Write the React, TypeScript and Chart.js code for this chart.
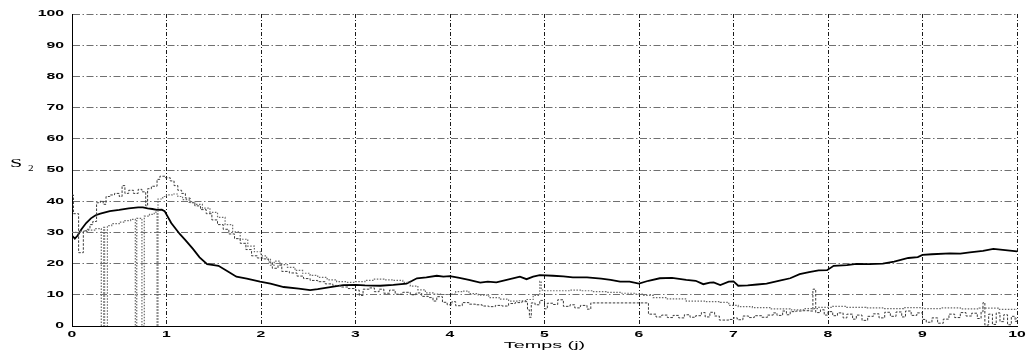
import React, { useEffect, useRef } from 'react';
import { Chart, registerables } from 'chart.js';

Chart.register(...registerables);

const xTitle = 'Temps (j)';
const yTitle = 'S';
const yTitleSub = '2';
const xMin = 0;
const xMax = 10;
const yMin = 0;
const yMax = 100;

// Solid black series
const solidT = [0, 0.03, 0.06, 0.1, 0.15, 0.2, 0.25, 0.3, 0.4, 0.5, 0.6, 0.7, 0.75, 0.8, 0.85, 0.9, 0.95, 0.98, 1.05, 1.14, 1.2, 1.28, 1.35, 1.43, 1.5, 1.55, 1.65, 1.74, 1.85, 1.99, 2.1, 2.24, 2.4, 2.52, 2.6, 2.7, 2.8, 2.87, 3.0, 3.1, 3.26, 3.4, 3.54, 3.6, 3.65, 3.75, 3.86, 3.93, 4.0, 4.1, 4.2, 4.32, 4.4, 4.49, 4.6, 4.74, 4.81, 4.88, 4.95, 5.09, 5.2, 5.3, 5.45, 5.6, 5.7, 5.8, 5.9, 6.0, 6.1, 6.22, 6.35, 6.5, 6.6, 6.68, 6.75, 6.79, 6.86, 6.95, 7.0, 7.05, 7.15, 7.25, 7.35, 7.5, 7.6, 7.7, 7.8, 7.9, 7.99, 8.06, 8.2, 8.3, 8.44, 8.58, 8.7, 8.85, 8.95, 9.0, 9.1, 9.29, 9.4, 9.5, 9.64, 9.75, 9.85, 9.95, 10.0];
const solidS = [29, 28, 29, 31, 33, 34.5, 35.5, 36, 36.8, 37.2, 37.7, 38, 38, 37.7, 37.5, 37.2, 37.3, 36.8, 33, 29.5, 27.5, 24.7, 22, 19.8, 19.5, 19.3, 17.5, 15.8, 15.2, 14.2, 13.6, 12.5, 12, 11.5, 11.8, 12.3, 12.8, 13.1, 13.2, 13, 12.9, 13.2, 13.6, 14.5, 15.3, 15.6, 16.1, 15.8, 16, 15.4, 14.8, 13.9, 14.2, 14, 14.8, 15.8, 15, 15.8, 16.3, 16.1, 15.9, 15.6, 15.6, 15.2, 14.8, 14.2, 14.2, 13.6, 14.5, 15.3, 15.4, 14.8, 14.5, 13.4, 13.9, 14, 13.1, 14.2, 14.3, 12.9, 13, 13.3, 13.6, 14.6, 15.3, 16.6, 17.3, 17.8, 17.9, 19.3, 19.5, 19.9, 19.8, 20, 20.6, 21.8, 22.1, 22.8, 23, 23.3, 23.2, 23.6, 24.1, 24.7, 24.4, 24.1, 23.9];

// Dashed series (peak ~48)
const aT = [0, 0.015, 0.07, 0.12, 0.16, 0.19, 0.22, 0.26, 0.3, 0.33, 0.36, 0.4, 0.45, 0.5, 0.53, 0.56, 0.6, 0.65, 0.7, 0.74, 0.78, 0.8, 0.84, 0.9, 0.93, 0.99, 1.04, 1.08, 1.12, 1.16, 1.2, 1.25, 1.3, 1.36, 1.42, 1.48, 1.54, 1.6, 1.66, 1.72, 1.78, 1.84, 1.9, 1.96, 2.02, 2.08, 2.12, 2.18, 2.22, 2.3, 2.38, 2.45, 2.52, 2.6, 2.68, 2.76, 2.84, 2.92, 3.0, 3.04, 3.08, 3.15, 3.2, 3.25, 3.3, 3.36, 3.42, 3.5, 3.58, 3.64, 3.7, 3.77, 3.82, 3.86, 3.92, 3.97, 4.02, 4.06, 4.13, 4.2, 4.27, 4.34, 4.41, 4.48, 4.55, 4.62, 4.69, 4.76, 4.82, 4.84, 4.86, 4.9, 4.95, 5.0, 5.03, 5.09, 5.14, 5.2, 5.27, 5.32, 5.38, 5.45, 5.49, 6.1, 6.18, 6.24, 6.3, 6.36, 6.42, 6.48, 6.54, 6.6, 6.66, 6.7, 6.75, 6.8, 6.85, 6.95, 7.0, 7.04, 7.1, 7.16, 7.22, 7.3, 7.36, 7.42, 7.46, 7.52, 7.56, 7.6, 7.66, 7.72, 7.8, 7.84, 7.87, 7.92, 7.96, 8.0, 8.05, 8.1, 8.16, 8.2, 8.26, 8.3, 8.36, 8.42, 8.48, 8.54, 8.6, 8.66, 8.72, 8.78, 8.82, 8.88, 8.94, 9.0, 9.04, 9.1, 9.16, 9.22, 9.28, 9.34, 9.4, 9.46, 9.52, 9.58, 9.62, 9.64, 9.66, 9.7, 9.74, 9.78, 9.82, 9.86, 9.9, 9.94, 9.98, 10.0];
const aS = [42, 36, 23.5, 30.5, 31, 32.5, 33.5, 39.5, 40, 39, 41.5, 42, 42.5, 41.5, 45, 42.5, 43.5, 42.5, 43.8, 43, 38.5, 44, 44.8, 47, 48, 47.5, 46.5, 45, 43.5, 42.5, 41, 39.5, 38.5, 37.3, 36, 34, 32.5, 31, 29.5, 28, 26.5, 24.5, 22.5, 21.8, 21.5, 20.5, 18.5, 19.5, 17.5, 17, 16, 15.2, 14.6, 14.2, 13.5, 13, 12.5, 12, 11.5, 9.8, 11.8, 12.2, 11, 11.8, 10.5, 11.5, 10.2, 10.8, 10, 10.6, 9.5, 9.1, 8, 9.4, 7.6, 6.8, 7.8, 6.5, 7.5, 7, 6.8, 6.4, 6.2, 6.6, 6.4, 7.2, 7.5, 7.8, 5.2, 2.8, 7.4, 6.8, 8.2, 5.5, 7.3, 6.9, 8.4, 6.3, 6.8, 5.8, 6.6, 5.4, 7.4, 3.8, 2.9, 3.5, 2.7, 3.4, 2.6, 3.6, 2.8, 3.3, 4.3, 2.9, 4.4, 3.2, 1.9, 2.1, 2.6, 2.0, 3.2, 2.7, 3.3, 2.8, 3.5, 4.2, 3.4, 4.8, 3.6, 4.6, 4.8, 4.9, 4.8, 11.8, 4.3, 5.2, 3.5, 4.6, 3.3, 4.2, 2.6, 3.8, 2.2, 3.5, 1.8, 3.1, 3.9, 2.6, 4.4, 3.1, 4.5, 2.9, 4.8, 3.4, 4.2, 2.1, 1.2, 2.6, 0.9, 2.2, 3.8, 2.7, 4.3, 3.2, 4.1, 2.4, 4.5, 7.5, 0.3, 3.8, 0.5, 4.2, 1.4, 3.6, 0.4, 3.1, 1.5, 2.6];

// Dotted series (with drops to zero)
const bT = [0, 0.08, 0.16, 0.24, 0.31, 0.335, 0.345, 0.375, 0.42, 0.5, 0.56, 0.62, 0.67, 0.685, 0.74, 0.765, 0.82, 0.87, 0.9, 0.91, 0.96, 1.0, 1.06, 1.12, 1.17, 1.24, 1.3, 1.38, 1.46, 1.54, 1.62, 1.7, 1.78, 1.86, 1.93, 2.0, 2.06, 2.1, 2.14, 2.2, 2.28, 2.36, 2.44, 2.52, 2.6, 2.7, 2.8, 2.9, 3.0, 3.1, 3.2, 3.3, 3.4, 3.5, 3.58, 3.66, 3.74, 3.82, 3.9, 4.0, 4.06, 4.13, 4.2, 4.3, 4.41, 4.52, 4.62, 4.72, 4.8, 4.88, 4.95, 4.965, 5.0, 5.1, 5.27, 5.4, 5.5, 5.65, 5.8, 5.95, 6.05, 6.15, 6.3, 6.5, 6.7, 6.86, 6.95, 7.05, 7.2, 7.4, 7.6, 7.75, 7.9, 8.05, 8.2, 8.4, 8.6, 8.8, 9.0, 9.2, 9.4, 9.6, 9.8, 10.0];
const bS = [30, 30.3, 30.7, 31.2, 0, 31.6, 0, 32.2, 32.8, 33.3, 33.8, 34.2, 0, 34.5, 0, 35.2, 35.8, 36.5, 0, 40.7, 41.5, 42, 42.3, 41.5, 40.5, 39.6, 39, 37.8, 36.4, 34.8, 32.5, 30.2, 27.8, 25.6, 23.8, 22.5, 21.4, 19.5, 20.8, 19.7, 18.8, 17.8, 16.9, 16.2, 15.6, 14.8, 14.2, 14, 14.2, 14.6, 15, 14.8, 14.6, 14, 12.8, 11.6, 10.6, 10.2, 10.1, 10.2, 11, 11.2, 10.4, 9.9, 9.1, 8.6, 8, 8.1, 8.5, 9.8, 14.3, 11.5, 11.3, 11.3, 11.5, 11.3, 11, 10.8, 10.5, 10.2, 9.8, 9.1, 8.7, 8, 7.8, 7.6, 6.6, 6.2, 5.9, 5.5, 5.2, 5.6, 6, 6.3, 6, 5.8, 5.6, 5.9, 5.6, 5.8, 5.5, 5.7, 5.3, 5.1];

const toPoints = (xs: number[], ys: number[]) => xs.map((x, i) => ({ x, y: ys[i] }));

const LABEL_FONT = 'bold 9px "Liberation Sans", Arial, sans-serif';

const labelPlugin = {
  id: 'stretchedLabels',
  afterDraw(chart: any) {
    const { ctx, chartArea } = chart;
    const xs = chart.scales.x;
    const ys = chart.scales.y;
    ctx.save();
    ctx.fillStyle = '#000';
    ctx.font = LABEL_FONT;
    ctx.textBaseline = 'middle';
    xs.ticks.forEach((t: any) => {
      const px = xs.getPixelForValue(t.value);
      ctx.save();
      ctx.translate(px, chartArea.bottom + 8.5);
      ctx.scale(1.75, 1);
      ctx.textAlign = 'center';
      ctx.fillText(String(t.label), 0, 0);
      ctx.restore();
    });
    ys.ticks.forEach((t: any) => {
      const py = ys.getPixelForValue(t.value);
      ctx.save();
      ctx.translate(chartArea.left - 8, py);
      ctx.scale(1.75, 1);
      ctx.textAlign = 'right';
      ctx.fillText(String(t.label), 0, 0);
      ctx.restore();
    });
    // x title
    ctx.save();
    ctx.font = '9px "Liberation Sans", Arial, sans-serif';
    ctx.translate((chartArea.left + chartArea.right) / 2, chartArea.bottom + 19.5);
    ctx.scale(2.2, 1);
    ctx.textAlign = 'center';
    ctx.fillText(xTitle, 0, 0);
    ctx.restore();
    // y title
    ctx.save();
    ctx.font = '13px "Liberation Serif", "Times New Roman", serif';
    ctx.translate(10, 164);
    ctx.scale(1.7, 1);
    ctx.textAlign = 'left';
    ctx.fillText(yTitle, 0, 0);
    ctx.restore();
    ctx.save();
    ctx.font = '8px "Liberation Serif", "Times New Roman", serif';
    ctx.translate(28, 168.5);
    ctx.scale(1.4, 1);
    ctx.textAlign = 'left';
    ctx.fillText(yTitleSub, 0, 0);
    ctx.restore();
    ctx.restore();
  },
};

export default function App() {
  const ref = useRef<HTMLCanvasElement | null>(null);

  useEffect(() => {
    if (!ref.current) return;
    const chart = new Chart(ref.current, {
      type: 'line',
      data: {
        datasets: [
          {
            label: 'b',
            data: toPoints(bT, bS),
            borderColor: '#6a6a6a',
            borderWidth: 1.2,
            borderDash: [1.5, 1.5],
            stepped: true,
            pointRadius: 0,
            fill: false,
          },
          {
            label: 'a',
            data: toPoints(aT, aS),
            borderColor: '#3a3a3a',
            borderWidth: 1,
            borderDash: [2.5, 1.5],
            stepped: true,
            pointRadius: 0,
            fill: false,
          },
          {
            label: 's',
            data: toPoints(solidT, solidS),
            borderColor: '#000',
            borderWidth: 1.8,
            pointRadius: 0,
            tension: 0,
            fill: false,
          },
        ],
      },
      options: {
        animation: false,
        responsive: false,
        maintainAspectRatio: false,
        layout: { padding: { left: 72, right: 13, top: 14, bottom: 26 } },
        plugins: {
          legend: { display: false },
          tooltip: { enabled: false },
        },
        scales: {
          x: {
            type: 'linear',
            min: xMin,
            max: xMax,
            ticks: { stepSize: 1, display: false },
            grid: { color: '#1a1a1a', lineWidth: 1, drawTicks: false },
            border: { display: true, color: '#000', width: 1, dash: [4, 2, 1, 2] },
          },
          y: {
            type: 'linear',
            min: yMin,
            max: yMax,
            ticks: { stepSize: 10, display: false },
            grid: { color: '#707070', lineWidth: 1, drawTicks: false },
            border: { display: true, color: '#000', width: 1, dash: [7, 2.5, 1.5, 2.5] },
          },
        },
      },
      plugins: [labelPlugin],
    });
    return () => chart.destroy();
  }, []);

  return (
    <div style={{ position: 'absolute', left: 0, top: 0, width: 1030, height: 352, background: '#fff' }}>
      <canvas ref={ref} width={1030} height={352} style={{ display: 'block' }} />
    </div>
  );
}
